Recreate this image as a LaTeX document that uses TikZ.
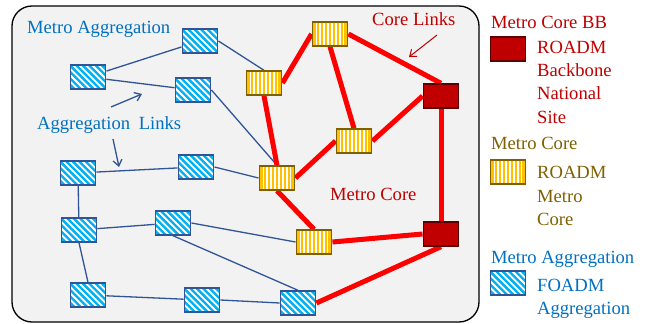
\documentclass[tikz,border=0pt]{standalone}
\usepackage{fontspec}
\setmainfont{Liberation Serif}
\usetikzlibrary{arrows.meta}
\definecolor{panel}{HTML}{F2F2F2}
\definecolor{aggline}{HTML}{2F5597}
\definecolor{aggcyan}{HTML}{00B0F0}
\definecolor{aggtext}{HTML}{0070C0}
\definecolor{corered}{HTML}{FF0000}
\definecolor{bbfill}{HTML}{C00000}
\definecolor{bbdraw}{HTML}{5C0000}
\definecolor{mcfill}{HTML}{FFC000}
\definecolor{mcdraw}{HTML}{7F6000}
\definecolor{redtext}{HTML}{C00000}
\pgfdeclarelayer{panel}
\pgfdeclarelayer{links}
\pgfsetlayers{panel,links,main}
\tikzset{
  boxbase/.style={minimum width=35pt, minimum height=23.5pt, inner sep=0pt, line width=1.9pt},
  foadm/.style={boxbase, draw=aggline, fill=white,
    path picture={
      \begin{scope}[shift={(path picture bounding box.center)}]
        \foreach \k in {-9,...,9}
          \draw[aggcyan, line width=2.4pt] (\k*6.4pt-20pt,20pt) -- (\k*6.4pt+20pt,-20pt);
      \end{scope}}},
  roadmmc/.style={boxbase, draw=mcdraw, fill=white,
    path picture={
      \begin{scope}[shift={(path picture bounding box.center)}]
        \foreach \k in {-5,...,5}
          \draw[mcfill, line width=2.3pt] (\k*3.9pt,-15pt) -- (\k*3.9pt,15pt);
      \end{scope}}},
  roadmbb/.style={boxbase, draw=bbdraw, fill=bbfill},
  agglink/.style={draw=aggline, line width=1.3pt},
  corelink/.style={draw=corered, line width=5pt},
  lbl/.style={inner sep=0pt, anchor=base west, font=\fontsize{18.6}{23}\selectfont},
  pointer/.style={line width=1.3pt, -{Straight Barb[length=6pt,width=9pt]}}
}
\begin{document}
\begin{tikzpicture}[x=1pt,y=-1pt]
\useasboundingbox (0,0) rectangle (649,324);

% aggregation nodes
\node[foadm] (a1) at (88,77) {};
\node[foadm] (a2) at (200,41) {};
\node[foadm] (a3) at (193,90) {};
\node[foadm] (a4) at (78,173) {};
\node[foadm] (a5) at (196,167) {};
\node[foadm] (a6) at (79,230) {};
\node[foadm] (a7) at (173,223) {};
\node[foadm] (a8) at (88,295) {};
\node[foadm] (a9) at (202,300) {};
\node[foadm] (a10) at (298,303) {};

% metro core nodes
\node[roadmmc] (y1) at (330,34) {};
\node[roadmmc] (y2) at (264,83) {};
\node[roadmmc] (y3) at (354,141) {};
\node[roadmmc] (y4) at (277,178) {};
\node[roadmmc] (y5) at (314,242) {};

% backbone nodes
\node[roadmbb] (r1) at (441,96) {};
\node[roadmbb] (r2) at (441,234) {};

\begin{pgfonlayer}{panel}
  \draw[fill=panel, line width=1.3pt, rounded corners=20pt] (12,6) rectangle (479,322);
\end{pgfonlayer}

\begin{pgfonlayer}{links}
  % aggregation links
  \draw[agglink] (a1) -- (a2);
  \draw[agglink] (a1) -- (a3);
  \draw[agglink] (a2.east) -- (y2.north);
  \draw[agglink] (a3.east) -- (y4.north);
  \draw[agglink] (a4) -- (a5);
  \draw[agglink] (a5.east) -- (y4.west);
  \draw[agglink] (a4) -- (a6);
  \draw[agglink] (a6) -- (a7);
  \draw[agglink] (a7.east) -- (y5.west);
  \draw[agglink] (a7.south) -- (a10.north);
  \draw[agglink] (a6.south) -- (a8.north);
  \draw[agglink] (a8) -- (a9);
  \draw[agglink] (a9.east) -- (a10.west);
  % core links
  \draw[corelink] (y1.west) -- (y2.east);
  \draw[corelink] (y1.east) -- (r1.north);
  \draw[corelink] (y1.south) -- (y3.north);
  \draw[corelink] (y3.east) -- (r1.west);
  \draw[corelink] (y2.south) -- (y4.north);
  \draw[corelink] (y4.east) -- (y3.west);
  \draw[corelink] (y4.south) -- (y5.north);
  \draw[corelink] (y5.east) -- (r2.west);
  \draw[corelink] (r1.south) -- (r2.north);
  \draw[corelink] (r2.south) -- (a10.east);
\end{pgfonlayer}

% labels inside the panel
\node[lbl, text=aggtext] (tagg) at (27,33) {Metro Aggregation};
\node[lbl, text=aggtext] (tlinks) at (37,129) {Aggregation\hspace{4pt} Links};
\node[lbl, text=redtext] (tcorelinks) at (372,25) {Core Links};
\node[lbl, text=redtext] (tmetrocore) at (330,200) {Metro Core};

% pointers
\coordinate (p1s) at (111,107); \coordinate (p1e) at (142,94);
\coordinate (p2s) at (113,139); \coordinate (p2e) at (119,167);
\coordinate (p3s) at (437,35);  \coordinate (p3e) at (409,57);
\draw[pointer, aggline] (p1s) -- (p1e);
\draw[pointer, aggline] (p2s) -- (p2e);
\draw[pointer, redtext, line width=1pt] (p3s) -- (p3e);

% legend
\node[lbl, text=redtext] (lgbbt) at (491,28) {Metro Core BB};
\node[roadmbb] (lgbb) at (508,49) {};
\node[lbl, text=redtext] at (537,53) {ROADM};
\node[lbl, text=redtext] at (537,76) {Backbone};
\node[lbl, text=redtext] at (537,99) {National};
\node[lbl, text=redtext] at (537,123) {Site};

\node[lbl, text=mcdraw] (lgmct) at (491,149) {Metro Core};
\node[roadmmc] (lgmc) at (508,172) {};
\node[lbl, text=mcdraw] at (537,178) {ROADM};
\node[lbl, text=mcdraw] at (537,202) {Metro};
\node[lbl, text=mcdraw] at (537,225) {Core};

\node[lbl, text=aggtext] (lgaggt) at (491,263) {Metro Aggregation};
\node[foadm] (lgagg) at (508,283) {};
\node[lbl, text=aggtext] at (537,291) {FOADM};
\node[lbl, text=aggtext] at (537,314) {Aggregation};
\end{tikzpicture}
\end{document}
